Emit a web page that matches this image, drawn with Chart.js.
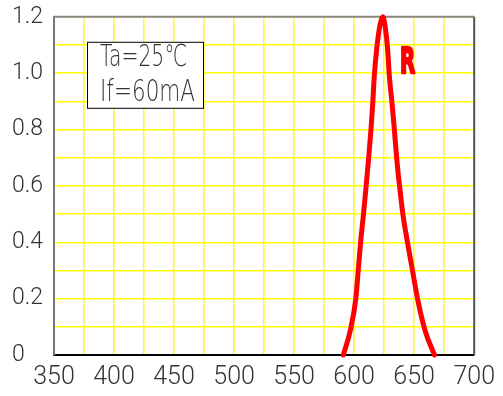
<!DOCTYPE html>
<html>
<head>
<meta charset="utf-8">
<script src="https://cdn.jsdelivr.net/npm/chart.js@4.4.1/dist/chart.umd.min.js"></script>
<style>
  html, body { margin: 0; padding: 0; background: #fff; }
  #wrap { width: 503px; height: 396px; }
</style>
</head>
<body>
<div id="wrap"><canvas id="specChart"></canvas></div>
<script>
// Spectrum of the red LED: wavelength (nm) vs relative intensity
const wavelengths = [591, 596.7, 601.4, 603.6, 605.6, 607.8, 610, 611.9, 614.2, 615.6, 616.7, 618.9, 621.5, 623.9,
                     626, 627.8, 629.4, 631.4, 633.3, 635.6, 637.8, 640.6, 644, 648.2, 652.8, 659.2, 666.9];
const intensity = [0, 0.085, 0.2, 0.31, 0.41, 0.5, 0.6, 0.69, 0.81, 0.9, 0.985, 1.09, 1.17, 1.2,
                   1.16, 1.09, 0.985, 0.9, 0.81, 0.69, 0.6, 0.5, 0.41, 0.31, 0.2, 0.085, 0];

// Tick labels
const xTicks = [350, 400, 450, 500, 550, 600, 650, 700];
const xTickLabels = ['350', '400', '450', '500', '550', '600', '650', '700'];
const yTicks = [0, 0.2, 0.4, 0.6, 0.8, 1.0, 1.2];
const yTickLabels = ['0', '0.2', '0.4', '0.6', '0.8', '1.0', '1.2'];

const conditions = ['Ta=25\u2103', 'If=60mA'];
const seriesName = 'R';

const tickFont = "Roboto, 'Liberation Sans', sans-serif";

function lookupLabel(ticks, labels, v) {
    const i = ticks.findIndex(t => Math.abs(t - v) < 1e-6);
    return i >= 0 ? labels[i] : '';
}

// Top/right frame, condition box and series label
Chart.register({
    id: 'frameAndNotes',
    beforeDatasetsDraw(chart) {
        const { ctx, chartArea: { left, top, right, bottom } } = chart;
        ctx.save();
        ctx.lineWidth = 2;
        ctx.strokeStyle = '#888';
        ctx.beginPath();
        ctx.moveTo(left, top);
        ctx.lineTo(right, top);
        ctx.stroke();
        ctx.strokeStyle = '#555';
        ctx.beginPath();
        ctx.moveTo(right, top);
        ctx.lineTo(right, bottom);
        ctx.stroke();

        // condition box
        const bx = left + 33, by = top + 25, bw = 116, bh = 66;
        ctx.fillStyle = '#fff';
        ctx.fillRect(bx, by, bw, bh);
        ctx.lineWidth = 1;
        ctx.strokeStyle = '#000';
        ctx.strokeRect(bx + 0.5, by + 0.5, bw, bh);

        ctx.fillStyle = '#333';
        ctx.font = '300 30px "DejaVu Sans"';
        ctx.textBaseline = 'alphabetic';
        ctx.textAlign = 'left';
        const widths = [87, 95];
        conditions.forEach((t, i) => {
            const w = ctx.measureText(t).width;
            ctx.save();
            ctx.translate(bx + 13, by + 24 + i * 35);
            ctx.scale(widths[i] / w, 1);
            ctx.fillText(t, 0, 0);
            ctx.restore();
        });
        ctx.restore();
    },
    afterDatasetsDraw(chart) {
        const { ctx, scales: { x, y } } = chart;
        ctx.save();
        ctx.font = 'bold 36px "DejaVu Sans"';
        ctx.fillStyle = '#ff0000';
        ctx.strokeStyle = '#ff0000';
        ctx.lineWidth = 2.5;
        ctx.lineJoin = 'round';
        ctx.textAlign = 'center';
        ctx.textBaseline = 'alphabetic';
        ctx.translate(x.getPixelForValue(644.5), y.getPixelForValue(1.0));
        ctx.scale(0.55, 1);
        ctx.fillText(seriesName, 0, 0);
        ctx.strokeText(seriesName, 0, 0);
        ctx.restore();
    }
});

const ctx = document.getElementById('specChart').getContext('2d');
const specChart = new Chart(ctx, {
    type: 'line',
    data: {
        datasets: [{
            label: seriesName,
            data: wavelengths.map((w, i) => ({ x: w, y: intensity[i] })),
            borderColor: '#ff0000',
            borderWidth: 5,
            borderCapStyle: 'round',
            borderJoinStyle: 'round',
            pointRadius: 0,
            cubicInterpolationMode: 'monotone',
            clip: false
        }]
    },
    options: {
        responsive: true,
        maintainAspectRatio: false,
        animation: false,
        layout: { padding: { left: 12, top: 16, right: 28, bottom: 0 } },
        plugins: {
            legend: { display: false },
            tooltip: { enabled: false }
        },
        scales: {
            x: {
                type: 'linear',
                min: 350,
                max: 700,
                afterFit(scale) { scale.height = 41; },
                grid: { color: '#ffff00', lineWidth: 1.5, drawTicks: false },
                border: { color: '#000', width: 2 },
                ticks: {
                    stepSize: 25,
                    autoSkip: false,
                    maxRotation: 0,
                    padding: 8,
                    color: '#333',
                    font: { family: tickFont, size: 25, weight: 300 },
                    callback: v => lookupLabel(xTicks, xTickLabels, v)
                }
            },
            y: {
                min: 0,
                max: 1.2,
                afterFit(scale) { scale.width = 42; },
                grid: { color: '#ffff00', lineWidth: 1.5, drawTicks: false },
                border: { color: '#777', width: 2 },
                ticks: {
                    stepSize: 0.1,
                    autoSkip: false,
                    crossAlign: 'far',
                    color: '#333',
                    font: { family: tickFont, size: 23, weight: 300 },
                    callback: v => lookupLabel(yTicks, yTickLabels, v)
                }
            }
        }
    }
});
</script>
</body>
</html>
